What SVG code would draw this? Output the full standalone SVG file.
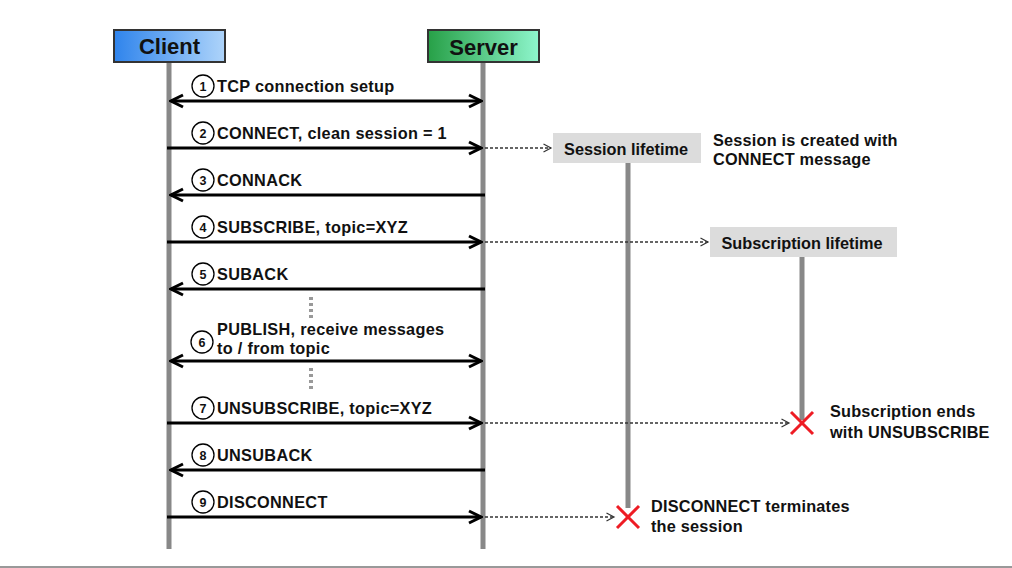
<svg xmlns="http://www.w3.org/2000/svg" width="1012" height="568" viewBox="0 0 1012 568">
<style>
text{font-family:"Liberation Sans",Arial,sans-serif;font-weight:bold;fill:#111;}
.lbl{font-size:16.3px;letter-spacing:0.3px;}
.hdr{font-size:22px;text-anchor:middle;}
.num{font-size:12.5px;text-anchor:middle;}
.life{stroke:#888;stroke-width:5;fill:none;}
.msg{stroke:#000;stroke-width:3;fill:none;}
.dash{stroke:#333;stroke-width:1.3;stroke-dasharray:3,2;fill:none;}
.dots{stroke:#999;stroke-width:4;stroke-dasharray:3,3;fill:none;}
.circ{fill:#fff;stroke:#000;stroke-width:1.3;}
.xmark{stroke:#ee1c24;stroke-width:3;}
.box{fill:#dcdcdc;}
.note{font-size:16.3px;letter-spacing:0.2px;}
.boxlbl{font-size:16.3px;text-anchor:middle;}
</style>
<defs>
<linearGradient id="gClient" x1="0" y1="0" x2="1" y2="0">
<stop offset="0" stop-color="#2f84ec"/>
<stop offset="1" stop-color="#aed4fa"/>
</linearGradient>
<linearGradient id="gServer" x1="0" y1="0" x2="1" y2="0">
<stop offset="0" stop-color="#27a047"/>
<stop offset="1" stop-color="#8ef5cc"/>
</linearGradient>
<marker id="ah" markerUnits="userSpaceOnUse" viewBox="0 0 16 16" markerWidth="16" markerHeight="16" refX="14" refY="8" orient="auto-start-reverse">
<path d="M2,2 L14,8 L2,14" fill="none" stroke="#000" stroke-width="3"/>
</marker>
<marker id="dh" markerUnits="userSpaceOnUse" viewBox="0 0 10 10" markerWidth="10" markerHeight="10" refX="8.5" refY="5" orient="auto">
<path d="M1,1 L8.5,5 L1,9" fill="none" stroke="#333" stroke-width="1.2"/>
</marker>
</defs>
<rect width="1012" height="568" fill="#fff"/>
<line x1="0" y1="567" x2="1012" y2="567" stroke="#999" stroke-width="2"/>

<g id="lifelines">
<line class="life" x1="169" y1="63" x2="169" y2="549"/>
<line class="life" x1="483" y1="63" x2="483" y2="549"/>
<line class="life" x1="628" y1="163" x2="628" y2="508"/>
<line class="life" x1="802" y1="257" x2="802" y2="420"/>
</g>

<g id="client">
<rect x="114" y="30" width="111" height="32" fill="url(#gClient)" stroke="#333" stroke-width="2"/>
<text class="hdr" x="169.5" y="54">Client</text>
</g>
<g id="server">
<rect x="428" y="30" width="111" height="32" fill="url(#gServer)" stroke="#333" stroke-width="2"/>
<text class="hdr" x="483.5" y="55">Server</text>
</g>

<g id="session-lifetime">
<rect class="box" x="553" y="133" width="148" height="30"/>
<text class="boxlbl" x="626" y="155">Session lifetime</text>
</g>
<g id="subscription-lifetime">
<rect class="box" x="710" y="227" width="187" height="30"/>
<text class="boxlbl" x="802" y="249">Subscription lifetime</text>
</g>

<g id="connectors">
<line class="msg" x1="171" y1="101" x2="481" y2="101" marker-start="url(#ah)" marker-end="url(#ah)"/>
<line class="msg" x1="167" y1="148" x2="481" y2="148" marker-end="url(#ah)"/>
<line class="msg" x1="485" y1="195" x2="171" y2="195" marker-end="url(#ah)"/>
<line class="msg" x1="167" y1="242" x2="481" y2="242" marker-end="url(#ah)"/>
<line class="msg" x1="485" y1="289" x2="171" y2="289" marker-end="url(#ah)"/>
<line class="msg" x1="171" y1="361" x2="481" y2="361" marker-start="url(#ah)" marker-end="url(#ah)"/>
<line class="msg" x1="167" y1="423" x2="481" y2="423" marker-end="url(#ah)"/>
<line class="msg" x1="485" y1="470" x2="171" y2="470" marker-end="url(#ah)"/>
<line class="msg" x1="167" y1="517" x2="481" y2="517" marker-end="url(#ah)"/>

<line class="dash" x1="485" y1="148" x2="551" y2="148" marker-end="url(#dh)"/>
<line class="dash" x1="485" y1="242" x2="708" y2="242" marker-end="url(#dh)"/>
<line class="dash" x1="485" y1="423" x2="789" y2="423" marker-end="url(#dh)"/>
<line class="dash" x1="485" y1="517" x2="614" y2="517" marker-end="url(#dh)"/>

<line class="dots" x1="311" y1="297" x2="311" y2="318"/>
<line class="dots" x1="311" y1="368" x2="311" y2="389"/>
</g>

<g id="labels">
<circle class="circ" cx="203" cy="86" r="11"/><text class="num" x="203" y="90.5">1</text>
<text class="lbl" x="217" y="92">TCP connection setup</text>
<circle class="circ" cx="203" cy="133" r="11"/><text class="num" x="203" y="137.5">2</text>
<text class="lbl" x="217" y="139">CONNECT, clean session = 1</text>
<circle class="circ" cx="203" cy="180" r="11"/><text class="num" x="203" y="184.5">3</text>
<text class="lbl" x="217" y="186">CONNACK</text>
<circle class="circ" cx="203" cy="227" r="11"/><text class="num" x="203" y="231.5">4</text>
<text class="lbl" x="217" y="233">SUBSCRIBE, topic=XYZ</text>
<circle class="circ" cx="203" cy="274" r="11"/><text class="num" x="203" y="278.5">5</text>
<text class="lbl" x="217" y="280">SUBACK</text>
<circle class="circ" cx="202" cy="342" r="11"/><text class="num" x="202" y="346.5">6</text>
<text class="lbl" x="217" y="335">PUBLISH, receive messages</text>
<text class="lbl" x="217" y="354">to / from topic</text>
<circle class="circ" cx="203" cy="408" r="11"/><text class="num" x="203" y="412.5">7</text>
<text class="lbl" x="217" y="414">UNSUBSCRIBE, topic=XYZ</text>
<circle class="circ" cx="203" cy="455" r="11"/><text class="num" x="203" y="459.5">8</text>
<text class="lbl" x="217" y="461">UNSUBACK</text>
<circle class="circ" cx="203" cy="502" r="11"/><text class="num" x="203" y="506.5">9</text>
<text class="lbl" x="217" y="508">DISCONNECT</text>
</g>

<g id="session-note">
<text class="note" x="713" y="146">Session is created with</text>
<text class="note" x="713" y="165">CONNECT message</text>
</g>

<g id="subscription-end">
<line class="xmark" x1="791" y1="412" x2="813" y2="434"/>
<line class="xmark" x1="813" y1="412" x2="791" y2="434"/>
<text class="note" x="830" y="417">Subscription ends</text>
<text class="note" x="830" y="438">with UNSUBSCRIBE</text>
</g>

<g id="session-end">
<line class="xmark" x1="617" y1="506" x2="639" y2="528"/>
<line class="xmark" x1="639" y1="506" x2="617" y2="528"/>
<text class="note" x="651" y="512">DISCONNECT terminates</text>
<text class="note" x="651" y="532">the session</text>
</g>
</svg>
